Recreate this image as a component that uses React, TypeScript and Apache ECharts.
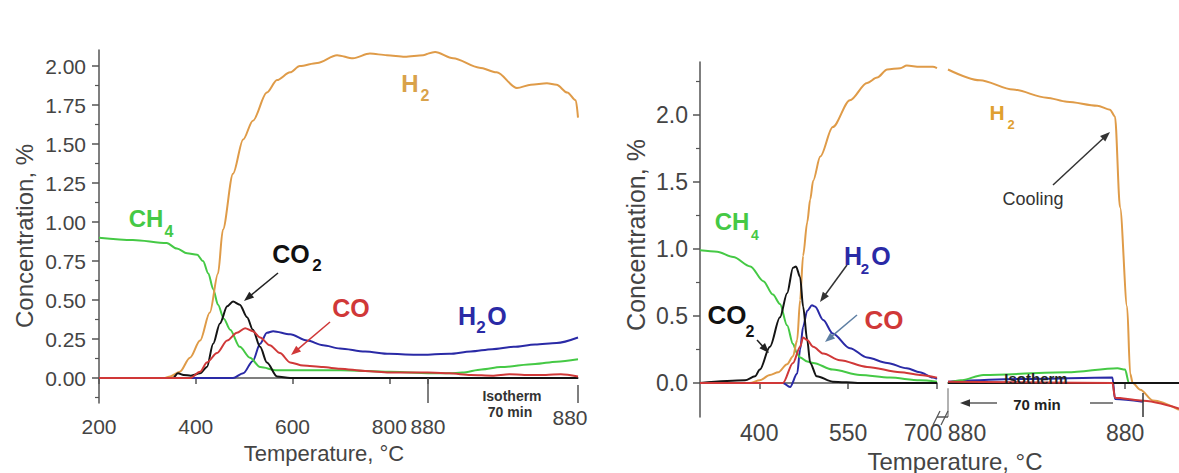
import React, { useEffect, useRef } from 'react';
import * as echarts from 'echarts';

type P = [number, number];

// ---------- LEFT PANEL: heating (temperature, °C) ----------
const leftH2Heat: P[] = [[200,0],[336,0],[347,0.01],[367,0.04],[388,0.13],[409,0.24],[429,0.42],[446,0.67],[456,0.95],[477,1.31],[498,1.53],[518,1.65],[547,1.83],[568,1.91],[595,1.96],[615,2.0],[651,2.02],[692,2.07],[725,2.05],[760,2.08],[795,2.07],[832,2.06],[870,2.07],[880,2.08]];
const leftCH4Heat: P[] = [[200,0.9],[270,0.885],[340,0.865],[361,0.83],[382,0.8],[403,0.79],[415,0.75],[426,0.67],[436,0.57],[446,0.47],[458,0.38],[471,0.31],[491,0.2],[512,0.13],[533,0.07],[568,0.05],[630,0.05],[700,0.05],[800,0.04],[880,0.03]];
const leftCO2Heat: P[] = [[200,0],[353,0],[363,0.03],[375,0.02],[390,0.015],[409,0.03],[423,0.07],[436,0.22],[450,0.35],[465,0.46],[477,0.49],[491,0.47],[506,0.39],[518,0.31],[533,0.2],[547,0.1],[568,0.01],[595,0],[880,0]];
const leftCOHeat: P[] = [[200,0],[388,0],[409,0.04],[423,0.1],[444,0.16],[465,0.24],[485,0.29],[502,0.32],[518,0.3],[533,0.26],[553,0.21],[574,0.16],[595,0.1],[622,0.08],[663,0.07],[698,0.06],[750,0.045],[800,0.035],[850,0.035],[880,0.035]];
const leftH2OHeat: P[] = [[200,0],[477,0],[498,0.03],[518,0.11],[533,0.22],[547,0.29],[560,0.3],[595,0.28],[630,0.24],[663,0.21],[698,0.19],[750,0.17],[800,0.155],[850,0.15],[880,0.15]];

// ---------- LEFT PANEL: isotherm at 880 °C (minutes) ----------
const leftH2Iso: P[] = [[0,2.08],[3.3,2.09],[11.7,2.05],[24,1.99],[32,1.96],[41.5,1.86],[48,1.88],[55.5,1.89],[60,1.88],[65,1.83],[69,1.78],[70,1.67]];
const leftCH4Iso: P[] = [[0,0.03],[10,0.03],[16,0.035],[25,0.055],[34,0.07],[50,0.09],[60,0.105],[70,0.12]];
const leftCO2Iso: P[] = [[0,0],[70,0]];
const leftCOIso: P[] = [[0,0.035],[10,0.03],[20,0.02],[30,0.015],[38,0.025],[45,0.02],[55,0.02],[62,0.025],[70,0.01]];
const leftH2OIso: P[] = [[0,0.15],[10,0.155],[20,0.17],[30,0.185],[40,0.2],[50,0.215],[60,0.225],[70,0.26]];

// ---------- RIGHT PANEL: heating (°C) ----------
const rightH2Heat: P[] = [[300,0],[384,0],[401,0.02],[418,0.06],[432,0.08],[447,0.14],[457,0.2],[464,0.32],[469,0.62],[474,0.95],[481,1.2],[486,1.37],[491,1.51],[503,1.69],[524,1.91],[553,2.11],[582,2.24],[599,2.28],[616,2.34],[638,2.35],[649,2.37],[671,2.36],[693,2.36],[700,2.35]];
const rightCH4Heat: P[] = [[300,0.99],[329,0.98],[356,0.94],[385,0.87],[407,0.76],[423,0.66],[435,0.59],[447,0.43],[457,0.29],[464,0.22],[469,0.19],[481,0.16],[491,0.15],[524,0.1],[570,0.06],[620,0.04],[671,0.02],[700,0.01]];
const rightCO2Heat: P[] = [[300,0],[376,0.02],[393,0.05],[401,0.1],[418,0.27],[435,0.49],[447,0.67],[457,0.86],[462,0.87],[469,0.79],[474,0.57],[481,0.32],[486,0.15],[497,0.05],[524,0.01],[570,0],[700,0]];
const rightCOHeat: P[] = [[300,0],[440,0],[457,0.15],[469,0.27],[474,0.34],[481,0.32],[491,0.27],[508,0.22],[536,0.17],[582,0.12],[638,0.08],[671,0.06],[700,0.04]];
const rightH2OHeat: P[] = [[300,0],[440,0],[452,-0.03],[464,0.07],[469,0.25],[474,0.42],[481,0.54],[489,0.58],[494,0.57],[508,0.47],[524,0.37],[553,0.26],[582,0.19],[616,0.15],[649,0.11],[671,0.08],[693,0.04],[700,0.03]];

// ---------- RIGHT PANEL: isotherm (70 min) + cooling (minutes) ----------
const rightH2Iso: P[] = [[0,2.34],[12.6,2.26],[25.7,2.19],[39,2.13],[47,2.1],[59,2.07],[64,2.04],[66,1.99],[68,1.31],[70.8,0.57],[72,0.07],[73,0],[76,-0.05],[81,-0.13],[91.3,-0.2]];
const rightCH4Iso: P[] = [[0,0],[5,0.02],[14,0.06],[47,0.08],[67,0.11],[70,0.1],[71.5,0],[91.3,0]];
const rightCO2Iso: P[] = [[0,0],[91.3,0]];
const rightCOIso: P[] = [[0,0.01],[65,0],[66,-0.11],[76,-0.13],[91.3,-0.19]];
const rightH2OIso: P[] = [[0,0.01],[30,0.03],[65,0.04],[66,-0.12],[77,-0.14]];

// ---------- tick labels ----------
const leftYTicks = [0, 0.25, 0.5, 0.75, 1.0, 1.25, 1.5, 1.75, 2.0];
const leftYMinor = [-0.125, 0.125, 0.375, 0.625, 0.875, 1.125, 1.375, 1.625, 1.875];
const leftXTicks = [200, 400, 600, 800, 880];
const rightYTicks = [0, 0.5, 1.0, 1.5, 2.0];
const rightYMinor = [0.25, 0.75, 1.25, 1.75, 2.25];
const rightXTicks = [400, 550, 700];
const rightIsoTicks = [0, 70];

const FONT = '"Liberation Sans", Arial, Helvetica, sans-serif';
const C = { H2: '#DF9B48', CH4: '#45C945', CO2: '#141414', CO: '#D03838', H2O: '#2A2AA6' };
const AX = '#555';

function ln(data: P[], color: string, xi: number, yi: number, extra: any = {}) {
  return {
    type: 'line', data, xAxisIndex: xi, yAxisIndex: yi,
    symbol: 'none', showSymbol: false, smooth: 0.3, smoothMonotone: 'x', silent: true,
    lineStyle: { color, width: 2 }, itemStyle: { color }, ...extra,
  };
}

function txt(text: string, x: number, y: number, size: number, color: string, weight = 'normal', extra: any = {}) {
  return {
    type: 'text', x, y, z: 60, ...extra,
    style: { text, fill: color, font: `${weight} ${size}px ${FONT}`, textAlign: 'center', textVerticalAlign: 'middle', align: 'center', verticalAlign: 'middle' },
  };
}

function arrow(x1: number, y1: number, x2: number, y2: number, color: string, w = 1.5) {
  const dx = x2 - x1, dy = y2 - y1, d = Math.hypot(dx, dy);
  const ux = dx / d, uy = dy / d, px = -uy, py = ux;
  const L = 10, H = 3.8;
  const bx = x2 - ux * L, by = y2 - uy * L;
  return [
    { type: 'line', z: 50, shape: { x1, y1, x2: bx + ux * 2, y2: by + uy * 2 }, style: { stroke: color, lineWidth: w } },
    { type: 'polygon', z: 50, shape: { points: [[x2, y2], [bx + px * H, by + py * H], [bx - px * H, by - py * H]] }, style: { fill: color } },
  ];
}

export default function App() {
  const ref = useRef<HTMLDivElement>(null);
  useEffect(() => {
    if (!ref.current) return;
    const chart = echarts.init(ref.current, undefined, { renderer: 'svg' });
    const lbl = (size: number) => ({ fontSize: size, color: '#444', fontFamily: FONT });
    const option: any = {
      animation: false,
      backgroundColor: '#ffffff',
      grid: [
        { left: 99, top: 50, width: 329, height: 353 },
        { left: 428, top: 50, width: 150, height: 353 },
        { left: 700, top: 62, width: 237, height: 355 },
        { left: 948, top: 62, width: 231, height: 355 },
      ],
      xAxis: [
        {
          gridIndex: 0, type: 'value', min: 200, max: 880,
          axisLine: { show: true, lineStyle: { color: AX, width: 1.5 } },
          axisTick: { show: true, customValues: leftXTicks, length: 6, lineStyle: { color: AX, width: 1.5 } },
          axisLabel: { ...lbl(21), customValues: leftXTicks, margin: 13, formatter: (v: number) => String(v) },
          splitLine: { show: false },
        },
        {
          gridIndex: 1, type: 'value', min: 0, max: 70,
          axisLine: { show: true, lineStyle: { color: AX, width: 1.5 } },
          axisTick: { show: false },
          axisLabel: {
            ...lbl(21), customValues: [70], margin: 4, showMaxLabel: true,
            formatter: () => '{r|880}', rich: { r: { ...lbl(21), padding: [0, 16, 0, 0] } },
          },
          splitLine: { show: false },
        },
        {
          gridIndex: 2, type: 'value', min: 300, max: 700,
          axisLine: { show: true, lineStyle: { color: AX, width: 1.5 } },
          axisTick: { show: true, customValues: rightXTicks, length: 6, lineStyle: { color: AX, width: 1.5 } },
          axisLabel: {
            ...lbl(23), customValues: rightXTicks, margin: 4, lineHeight: 23, showMaxLabel: true,
            formatter: (v: number) => (v === 700 ? '{r|700}' : String(v)),
            rich: { r: { ...lbl(23), lineHeight: 23, padding: [0, 28, 0, 0] } },
          },
          splitLine: { show: false },
        },
        {
          gridIndex: 3, type: 'value', min: 0, max: 91.3,
          axisLine: { show: true, lineStyle: { color: AX, width: 1.5 } },
          axisTick: { show: true, customValues: [70], length: 6, lineStyle: { color: AX, width: 1.5 } },
          axisLabel: {
            ...lbl(23), customValues: rightIsoTicks, margin: 4, lineHeight: 23, showMinLabel: true,
            formatter: (v: number) => (v === 0 ? '{l|880}' : '880'),
            rich: { l: { ...lbl(23), lineHeight: 23, padding: [0, 0, 0, 38] } },
          },
          splitLine: { show: false },
        },
      ],
      yAxis: [
        {
          gridIndex: 0, type: 'value', min: -0.16, max: 2.103,
          axisLine: { show: true, lineStyle: { color: AX, width: 1.5 } },
          axisTick: { show: true, customValues: leftYTicks, length: 7, lineStyle: { color: AX, width: 1.5 } },
          axisLabel: { ...lbl(21), customValues: leftYTicks, margin: 13, formatter: (v: number) => v.toFixed(2) },
          splitLine: { show: false },
        },
        {
          gridIndex: 0, type: 'value', min: -0.16, max: 2.103, position: 'left',
          axisLine: { show: false },
          axisTick: { show: true, customValues: leftYMinor, length: 4, lineStyle: { color: AX, width: 1.2 } },
          axisLabel: { show: false }, splitLine: { show: false },
        },
        { gridIndex: 1, type: 'value', min: -0.16, max: 2.103, show: false },
        {
          gridIndex: 2, type: 'value', min: -0.254, max: 2.396,
          axisLine: { show: true, lineStyle: { color: AX, width: 1.5 } },
          axisTick: { show: true, customValues: rightYTicks, length: 7, lineStyle: { color: AX, width: 1.5 } },
          axisLabel: { ...lbl(23), customValues: rightYTicks, margin: 12, formatter: (v: number) => v.toFixed(1) },
          splitLine: { show: false },
        },
        {
          gridIndex: 2, type: 'value', min: -0.254, max: 2.396, position: 'left',
          axisLine: { show: false },
          axisTick: { show: true, customValues: rightYMinor, length: 4, lineStyle: { color: AX, width: 1.2 } },
          axisLabel: { show: false }, splitLine: { show: false },
        },
        { gridIndex: 3, type: 'value', min: -0.254, max: 2.396, show: false },
      ],
      series: [
        // left heating
        ln(leftH2OHeat, C.H2O, 0, 0),
        ln(leftCH4Heat, C.CH4, 0, 0),
        ln(leftH2Heat, C.H2, 0, 0),
        ln(leftCO2Heat, C.CO2, 0, 0),
        ln(leftCOHeat, C.CO, 0, 0),
        // left isotherm
        ln(leftH2OIso, C.H2O, 1, 2),
        ln(leftCH4Iso, C.CH4, 1, 2),
        ln(leftH2Iso, C.H2, 1, 2),
        ln(leftCO2Iso, C.CO2, 1, 2),
        ln(leftCOIso, C.CO, 1, 2, {
          markLine: {
            silent: true, symbol: 'none', label: { show: false },
            lineStyle: { color: '#555', width: 1.5, type: 'solid' },
            data: [
              [{ coord: [0, 0] }, { coord: [0, -0.16] }],
              [{ coord: [70, -0.045] }, { coord: [70, -0.16] }],
            ],
          },
        }),
        // right heating
        ln(rightH2OHeat, C.H2O, 2, 3),
        ln(rightCH4Heat, C.CH4, 2, 3),
        ln(rightH2Heat, C.H2, 2, 3),
        ln(rightCO2Heat, C.CO2, 2, 3),
        ln(rightCOHeat, C.CO, 2, 3),
        // right isotherm + cooling
        ln(rightH2OIso, C.H2O, 3, 5),
        ln(rightCH4Iso, C.CH4, 3, 5),
        ln(rightH2Iso, C.H2, 3, 5),
        ln(rightCO2Iso, C.CO2, 3, 5),
        ln(rightCOIso, C.CO, 3, 5, {
          markLine: {
            silent: true, symbol: 'none', label: { show: false },
            lineStyle: { color: '#999', width: 1.5, type: 'solid' },
            data: [
              [{ coord: [0, -0.04] }, { coord: [0, -0.254] }],
              [{ coord: [77.1, -0.075] }, { coord: [77.1, -0.254], lineStyle: { color: '#333' } }],
            ],
          },
        }),
      ],
      graphic: [
        // axis titles
        txt('Concentration, %', 24, 236, 24, '#444', 'normal', { rotation: Math.PI / 2 }),
        txt('Temperature, °C', 324, 453, 22, '#444'),
        txt('Concentration, %', 636, 235, 25, '#444', 'normal', { rotation: Math.PI / 2 }),
        txt('Temperature, °C', 955, 461, 24, '#444'),
        // right axis break
        { type: 'line', z: 40, shape: { x1: 937, y1: 417, x2: 948, y2: 417 }, style: { stroke: AX, lineWidth: 1.5 } },
        { type: 'line', z: 41, shape: { x1: 933, y1: 425, x2: 940, y2: 411 }, style: { stroke: AX, lineWidth: 1.2 } },
        { type: 'line', z: 41, shape: { x1: 941, y1: 425, x2: 948, y2: 411 }, style: { stroke: AX, lineWidth: 1.2 } },
        // left species labels
        txt('H', 410, 83, 24, '#D9A24A', 'bold'), txt('2', 425, 95, 16, '#D9A24A', 'bold'),
        txt('CH', 146, 218, 24, C.CH4, 'bold'), txt('4', 169, 231, 16, C.CH4, 'bold'),
        txt('CO', 291, 254, 25, '#111', 'bold'), txt('2', 317, 265, 17, '#111', 'bold'),
        txt('CO', 351, 308, 25, C.CO, 'bold'),
        txt('H', 467, 316, 25, C.H2O, 'bold'), txt('2', 481, 327, 17, C.H2O, 'bold'), txt('O', 497, 316, 25, C.H2O, 'bold'),
        ...arrow(278, 273, 244, 301, '#222'),
        ...arrow(330, 322, 291, 355, C.CO),
        txt('Isotherm', 512, 396, 14, '#333', 'bold'),
        txt('70 min', 510, 412, 14, '#333', 'bold'),
        // right species labels
        txt('CH', 732, 221, 24, C.CH4, 'bold'), txt('4', 755, 235, 14, C.CH4, 'bold'),
        txt('CO', 727, 315, 26, '#111', 'bold'), txt('2', 750, 331, 16, '#111', 'bold'),
        txt('H', 853, 256, 25, C.H2O, 'bold'), txt('2', 865, 268, 15, C.H2O, 'bold'), txt('O', 881, 256, 25, C.H2O, 'bold'),
        txt('CO', 884, 320, 26, C.CO, 'bold'),
        txt('H', 997, 112, 21, '#E0A030', 'bold'), txt('2', 1011, 124, 13, '#E0A030', 'bold'),
        txt('Cooling', 1033, 199, 18, '#333'),
        ...arrow(757, 340, 769, 353, '#222'),
        ...arrow(847, 265, 820, 302, '#333'),
        ...arrow(857, 315, 825, 342, '#5E7FA3'),
        ...arrow(1053, 185, 1110, 132, '#333'),
        txt('Isotherm', 1036, 378, 15, '#222', 'bold'),
        txt('70 min', 1037, 404, 15, '#222', 'bold'),
        ...arrow(997, 403, 960, 403, '#333', 1.2),
        { type: 'line', z: 50, shape: { x1: 1090, y1: 403, x2: 1113, y2: 403 }, style: { stroke: '#333', lineWidth: 1.2 } },
      ],
    };
    chart.setOption(option);
    return () => chart.dispose();
  }, []);
  return (
    <div style={{ position: 'fixed', left: 0, top: 0, width: 1179, height: 473, background: '#fff' }}>
      <div ref={ref} style={{ width: 1179, height: 473 }} />
    </div>
  );
}
